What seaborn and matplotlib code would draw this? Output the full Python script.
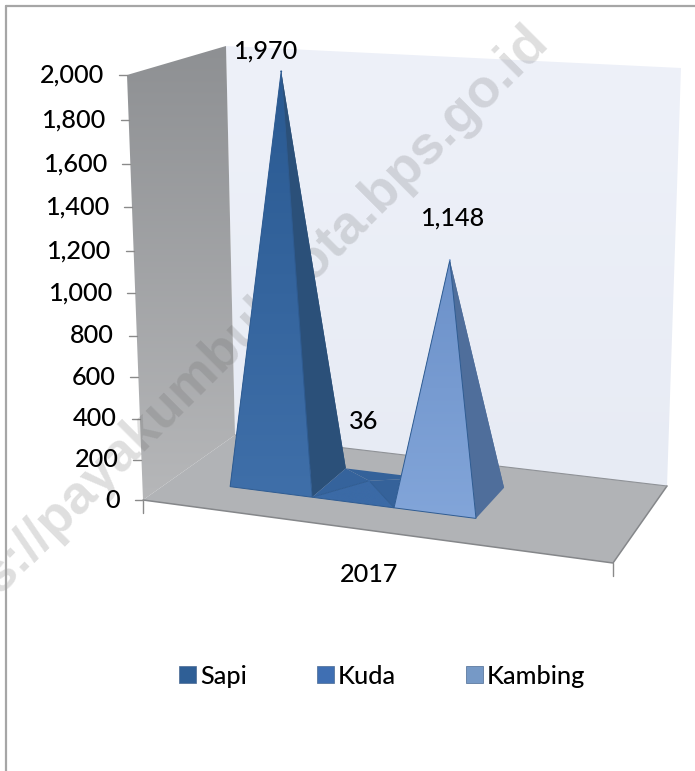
import numpy as np
import pandas as pd
import matplotlib
matplotlib.use("Agg")
import matplotlib.pyplot as plt
from matplotlib.patches import Patch, Polygon
from matplotlib.colors import LinearSegmentedColormap
import seaborn as sns

# ---- data ----
animals = ["Sapi", "Kuda", "Kambing"]
values = [1970, 36, 1148]
year_label = "2017"
y_ticks = [0, 200, 400, 600, 800, 1000, 1200, 1400, 1600, 1800, 2000]
watermark = "s://payakumbuhkota.bps.go.id"

# ---- styles ----
front_top = ["#2A5A92", "#3B6AA6", "#6C91C9"]
front_bot = ["#3F6FA9", "#3B6AA6", "#82A5D9"]
side_cols = ["#2B5079", "#35629A", "#4F6E9B"]
back_cols = ["#2B5079", "#34629A", "#4F6E9B"]
left_cols = ["#3A6AA3", "#35639C", "#7FA3D8"]
legend_cols = ["#2F5F96", "#3F6FB3", "#7699C6"]
FONT = "Lato"
FS = 18.2
INK = "#000000"

sns.set_theme(style="white")
plt.rcParams["font.family"] = [FONT, "DejaVu Sans"]
plt.rcParams["font.weight"] = 500

fig = plt.figure(figsize=(6.95, 7.71), dpi=100)
ax = fig.add_axes([0, 0, 1, 1])
ax.set_xlim(0, 695)
ax.set_ylim(771, 0)
ax.axis("off")

# 3-D box of the chart, projected to the picture
F0, F1, B1, B0 = map(np.array, [(143, 500), (613, 563), (667, 486), (235, 435)])
TF0, TF1, TB1, TB0 = map(np.array, [(127, 75), (617, 102), (681, 68), (226, 46)])
VMAX = 2000.0
U0, UW = 0.126, 0.179
D0, D1 = 0.32, 0.74


def project(u, d, val):
    t = val / VMAX
    t = t - 0.056 * t * (1 - t)
    bottom = (1 - u) * ((1 - d) * F0 + d * B0) + u * ((1 - d) * F1 + d * B1)
    top = (1 - u) * ((1 - d) * TF0 + d * TB0) + u * ((1 - d) * TF1 + d * TB1)
    return bottom + (top - bottom) * t


def gradient_poly(pts, c_top, c_bottom, zorder):
    pts = np.array(pts, dtype=float)
    cmap = LinearSegmentedColormap.from_list("g", [c_top, c_bottom])
    ext = [pts[:, 0].min(), pts[:, 0].max(), pts[:, 1].max(), pts[:, 1].min()]
    im = ax.imshow(np.linspace(0, 1, 256)[:, None], cmap=cmap, extent=ext,
                   aspect="auto", zorder=zorder)
    im.set_clip_path(Polygon(pts, transform=ax.transData))


# walls and floor
gradient_poly([TB0, TB1, B1, B0], "#EEF1F9", "#E7EBF4", 1)
gradient_poly([TF0, TB0, B0, F0], "#8E9093", "#B6B7B9", 2)
ax.add_patch(Polygon([F0, F1, B1, B0], closed=True, fc="#B1B3B6", ec="none", zorder=2))
ax.plot(*zip(F0, F1, B1), color="#85878A", lw=1.1, zorder=3)
ax.plot(*zip(B0, B1), color="#8F9297", lw=0.8, zorder=3)

# axis ticks
for v in y_ticks:
    p = project(0, 0, v)
    ax.plot([p[0] - 8, p[0]], [p[1], p[1]], color="#8A8A8A", lw=1, zorder=3)
    ax.text(p[0] - 23, p[1], f"{v:,}", ha="right", va="center", fontsize=FS,
            color=INK, zorder=6)
ax.plot([F0[0], F0[0]], [F0[1], F0[1] + 13], color="#8A8A8A", lw=1, zorder=3)
ax.plot([F1[0], F1[0]], [F1[1], F1[1] + 13], color="#8A8A8A", lw=1, zorder=3)

# pyramids
apexes = []
label_offsets = [(-16, -20), (-6, -59), (2, -42)]
for i, (name, val) in enumerate(zip(animals, values)):
    ul, ur = U0 + i * UW, U0 + (i + 1) * UW
    fl, fr = project(ul, D0, 0), project(ur, D0, 0)
    bl, br = project(ul, D1, 0), project(ur, D1, 0)
    apex = project((ul + ur) / 2, (D0 + D1) / 2, val)
    apexes.append(apex)
    z = 4 + i * 0.1
    ax.add_patch(Polygon([bl, br, apex], fc=back_cols[i], ec="none", zorder=z))
    ax.add_patch(Polygon([fl, bl, apex], fc=left_cols[i], ec="none", zorder=z))
    ax.add_patch(Polygon([fr, br, apex], fc=side_cols[i], ec="none", zorder=z))
    gradient_poly([fl, fr, apex], front_top[i], front_bot[i], z + 0.01)
    ax.add_patch(Polygon([fl, fr, apex], fc="none", ec="#2F5C92", lw=0.7, zorder=z + 0.02))
    dx, dy = label_offsets[i]
    ax.text(apex[0] + dx, apex[1] + dy, f"{val:,}", ha="center", va="center",
            fontsize=FS, color=INK, zorder=6)

apex_df = pd.DataFrame({"Jenis": animals,
                        "px": [a[0] for a in apexes],
                        "py": [a[1] for a in apexes]})
sns.scatterplot(data=apex_df, x="px", y="py", hue="Jenis", palette=front_top,
                s=2, linewidth=0, legend=False, ax=ax, zorder=5)
ax.set_xlim(0, 695)
ax.set_ylim(771, 0)

ax.text(369, 575, year_label, ha="center", va="center", fontsize=FS, color=INK, zorder=6)

# legend
handles = [Patch(fc=c, ec="#4A6A92", lw=0.5, label=n) for c, n in zip(legend_cols, animals)]
ax.legend(handles=handles, ncol=3, frameon=False, fontsize=FS, loc="center",
          bbox_to_anchor=(382.5, 676), bbox_transform=ax.transData,
          handlelength=0.67, handleheight=0.67, handletextpad=0.16,
          columnspacing=2.77, labelcolor=INK)

# outer frame
ax.plot([6, 6], [771, 6], color="#A6A6A6", lw=1.6, zorder=7)
ax.plot([6, 695], [6, 6], color="#A6A6A6", lw=1.6, zorder=7)

# watermark (lies under the pyramids, as it reads in the reference)
ax.text(550, 44, watermark, rotation=45, rotation_mode="anchor", ha="right", va="baseline",
        fontsize=39, family="Liberation Sans", weight="bold", color="#606060",
        alpha=0.2, zorder=3.5)

fig.savefig("out.png", dpi=100)
